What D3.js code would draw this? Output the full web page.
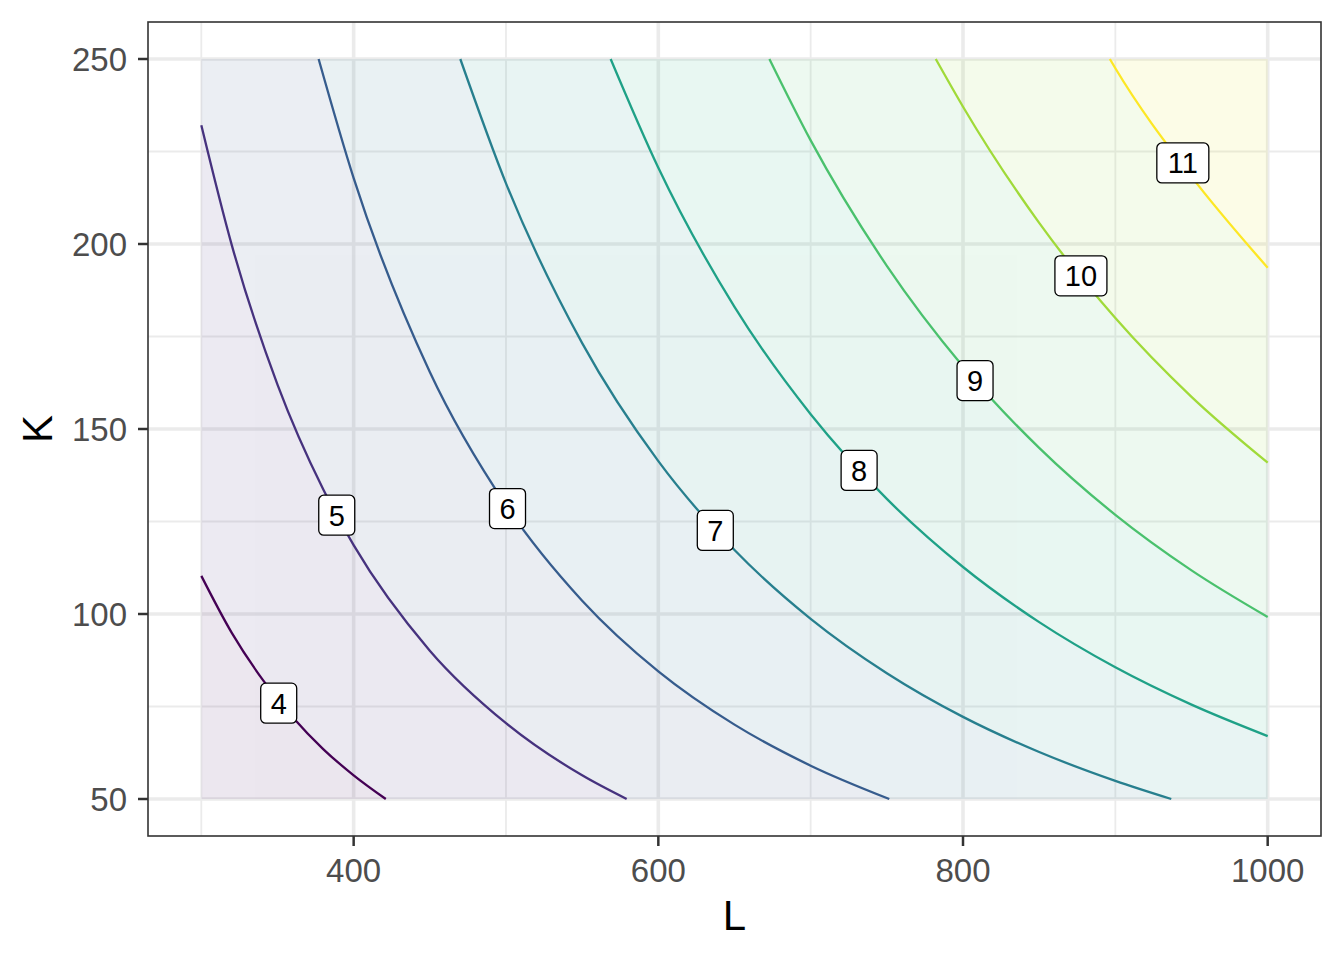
<!DOCTYPE html>
<html>
<head>
<meta charset="utf-8">
<script src="https://cdn.jsdelivr.net/npm/d3@7"></script>
<style>
  body { margin: 0; background: #fff; }
  text { font-family: "Liberation Sans", Arial, Helvetica, sans-serif; }
</style>
</head>
<body>
<svg width="1344" height="960"></svg>
<script>
// Contour levels and the points of each contour line (L, K)
const levels = [4, 5, 6, 7, 8, 9, 10, 11];

const contour4 = [[300, 110.3], [320, 94.9], [340, 82.4], [360, 72.1], [380, 63.5], [400, 56.4], [421.1, 50]];
const contour5 = [[300, 232.1], [320, 199.7], [350, 162.0], [380, 133.7], [400, 118.6], [450, 90.1], [500, 70.5], [550, 56.4], [579.2, 50]];
const contour6 = [[377, 250], [400, 217.8], [450, 165.4], [500, 129.4], [550, 103.6], [600, 84.5], [650, 70.1], [700, 59.0], [751.6, 50]];
const contour7 = [[470, 250], [500, 216.4], [550, 173.2], [600, 141.3], [650, 117.3], [700, 98.7], [750, 84.0], [800, 72.2], [850, 62.7], [900, 54.9], [936.7, 50]];
const contour8 = [[568.7, 250], [600, 220.6], [650, 183.0], [700, 154.0], [750, 131.1], [800, 112.7], [850, 97.8], [900, 85.6], [950, 75.5], [1000, 67.0]];
const contour9 = [[672.9, 250], [700, 228.0], [750, 194.1], [800, 166.9], [850, 144.9], [900, 126.8], [950, 111.8], [1000, 99.2]];
const contour10 = [[782.1, 250], [800, 237.1], [850, 205.7], [900, 180.0], [950, 158.7], [1000, 140.9]];
const contour11 = [[896.4, 250], [900, 247.5], [950, 218.2], [1000, 193.6]];
const contours = [contour4, contour5, contour6, contour7, contour8, contour9, contour10, contour11];

// Where the level labels sit
const labelL = [350.8, 388.9, 501.0, 637.4, 731.8, 807.9, 877.4, 944.3];
const labelK = [75.9, 126.7, 128.5, 122.6, 138.8, 163.1, 191.4, 221.9];

// Background shading: value of the band below 4, then each band above a level
const bandValues = [3.6, 4.5, 5.5, 6.5, 7.5, 8.5, 9.5, 10.5, 11.4];
const fillRange = [3.16, 11.87];

// Grid extent and axis breaks
const gridL = [300, 1000];
const gridK = [50, 250];
const xTicks = [400, 600, 800, 1000];
const xMinor = [300, 500, 700, 900];
const yTicks = [50, 100, 150, 200, 250];
const yMinor = [75, 125, 175, 225];

document.addEventListener('DOMContentLoaded', function () {
    const svg = d3.select("svg");

    // Panel box in pixels
    const panel = { left: 148, right: 1321, top: 22, bottom: 836 };

    // Scales with ggplot's 5% expansion
    const x = d3.scaleLinear().domain([265, 1035]).range([panel.left, panel.right]);
    const y = d3.scaleLinear().domain([40, 260]).range([panel.bottom, panel.top]);

    const levelColor = d3.scaleSequential(d3.interpolateViridis).domain([levels[0], levels[levels.length - 1]]);
    const fillColor = d3.scaleSequential(d3.interpolateViridis).domain(fillRange);

    // Panel background
    svg.append("rect")
        .attr("x", panel.left).attr("y", panel.top)
        .attr("width", panel.right - panel.left)
        .attr("height", panel.bottom - panel.top)
        .attr("fill", "#fff");

    // Grid lines (minor first, then major)
    const grid = svg.append("g");
    grid.selectAll(".xminor").data(xMinor).enter().append("line")
        .attr("x1", d => x(d)).attr("x2", d => x(d))
        .attr("y1", panel.top).attr("y2", panel.bottom)
        .attr("stroke", "#ebebeb").attr("stroke-width", 1.8);
    grid.selectAll(".yminor").data(yMinor).enter().append("line")
        .attr("y1", d => y(d)).attr("y2", d => y(d))
        .attr("x1", panel.left).attr("x2", panel.right)
        .attr("stroke", "#ebebeb").attr("stroke-width", 1.8);
    grid.selectAll(".xmajor").data(xTicks).enter().append("line")
        .attr("x1", d => x(d)).attr("x2", d => x(d))
        .attr("y1", panel.top).attr("y2", panel.bottom)
        .attr("stroke", "#ebebeb").attr("stroke-width", 3.6);
    grid.selectAll(".ymajor").data(yTicks).enter().append("line")
        .attr("y1", d => y(d)).attr("y2", d => y(d))
        .attr("x1", panel.left).attr("x2", panel.right)
        .attr("stroke", "#ebebeb").attr("stroke-width", 3.6);

    // Clip for the shaded grid region
    svg.append("clipPath").attr("id", "gridclip")
        .append("rect")
        .attr("x", x(gridL[0])).attr("y", y(gridK[1]))
        .attr("width", x(gridL[1]) - x(gridL[0]))
        .attr("height", y(gridK[0]) - y(gridK[1]));

    const line = d3.line()
        .x(d => x(d[0]))
        .y(d => y(d[1]))
        .curve(d3.curveMonotoneX);

    // Faint shading: lowest band as a rect, then the region above each contour painted on top
    const shade = svg.append("g").attr("clip-path", "url(#gridclip)").attr("opacity", 0.1);
    shade.append("rect")
        .attr("x", x(gridL[0])).attr("y", y(gridK[1]))
        .attr("width", x(gridL[1]) - x(gridL[0]))
        .attr("height", y(gridK[0]) - y(gridK[1]))
        .attr("fill", fillColor(bandValues[0]));
    shade.selectAll(".band").data(contours).enter().append("path")
        .attr("d", pts => {
            const first = pts[0], last = pts[pts.length - 1];
            return line(pts) +
                `L${x(1100)},${y(last[1])}L${x(1100)},${y(400)}L${x(first[0])},${y(400)}Z`;
        })
        .attr("fill", (d, i) => fillColor(bandValues[i + 1]));

    // Contour lines
    svg.append("g").selectAll(".contour").data(contours).enter().append("path")
        .attr("d", line)
        .attr("fill", "none")
        .attr("stroke", (d, i) => levelColor(levels[i]))
        .attr("stroke-width", 2.3);

    // Level labels in rounded white boxes
    const labels = svg.append("g").selectAll(".lab").data(levels).enter().append("g")
        .attr("transform", (d, i) => `translate(${x(labelL[i])},${y(labelK[i])})`);
    labels.append("rect")
        .attr("x", d => d >= 10 ? -26 : -18)
        .attr("width", d => d >= 10 ? 52 : 36)
        .attr("y", -20).attr("height", 40)
        .attr("rx", 5).attr("ry", 5)
        .attr("fill", "#fff")
        .attr("stroke", "#000")
        .attr("stroke-width", 1.3);
    labels.append("text")
        .attr("text-anchor", "middle")
        .attr("dy", "0.36em")
        .attr("font-size", 29)
        .attr("fill", "#000")
        .text(d => d);

    // Panel border
    svg.append("rect")
        .attr("x", panel.left).attr("y", panel.top)
        .attr("width", panel.right - panel.left)
        .attr("height", panel.bottom - panel.top)
        .attr("fill", "none")
        .attr("stroke", "#333")
        .attr("stroke-width", 1.6);

    // X axis ticks and labels
    const xAxis = svg.append("g");
    xAxis.selectAll("line").data(xTicks).enter().append("line")
        .attr("x1", d => x(d)).attr("x2", d => x(d))
        .attr("y1", panel.bottom).attr("y2", panel.bottom + 10)
        .attr("stroke", "#333").attr("stroke-width", 2.5);
    xAxis.selectAll("text").data(xTicks).enter().append("text")
        .attr("x", d => x(d)).attr("y", 882)
        .attr("text-anchor", "middle")
        .attr("font-size", 33)
        .attr("fill", "#4d4d4d")
        .text(d => d);

    // Y axis ticks and labels
    const yAxis = svg.append("g");
    yAxis.selectAll("line").data(yTicks).enter().append("line")
        .attr("y1", d => y(d)).attr("y2", d => y(d))
        .attr("x1", panel.left - 10).attr("x2", panel.left)
        .attr("stroke", "#333").attr("stroke-width", 2.5);
    yAxis.selectAll("text").data(yTicks).enter().append("text")
        .attr("x", 127).attr("y", d => y(d))
        .attr("dy", "0.36em")
        .attr("text-anchor", "end")
        .attr("font-size", 33)
        .attr("fill", "#4d4d4d")
        .text(d => d);

    // Axis titles
    svg.append("text")
        .attr("x", (panel.left + panel.right) / 2).attr("y", 930)
        .attr("text-anchor", "middle")
        .attr("font-size", 42)
        .attr("fill", "#000")
        .text("L");
    svg.append("text")
        .attr("transform", `translate(52,${(panel.top + panel.bottom) / 2}) rotate(-90)`)
        .attr("text-anchor", "middle")
        .attr("font-size", 42)
        .attr("fill", "#000")
        .text("K");
});
</script>
</body>
</html>
